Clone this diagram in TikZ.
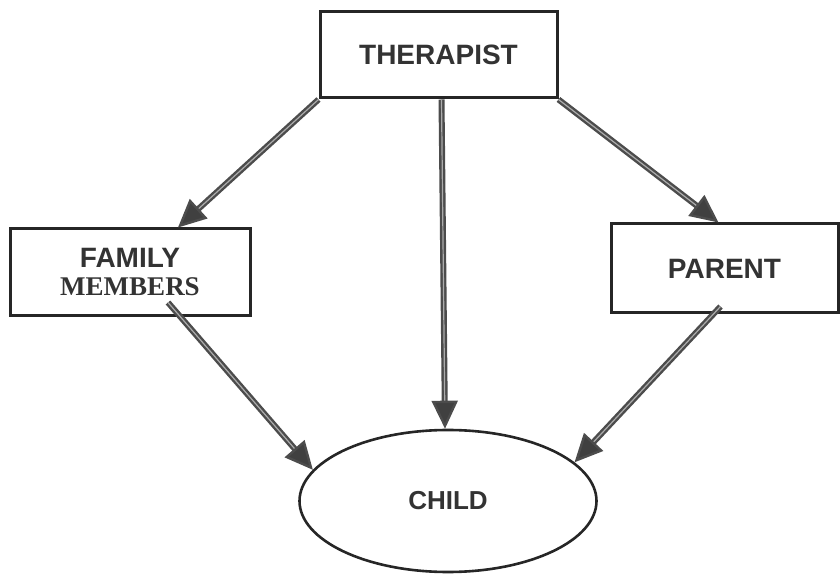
\documentclass[tikz,border=0pt]{standalone}
\usepackage{fontspec}
\setmainfont{Liberation Sans}
\newfontfamily\timesfont{Liberation Serif}
\usetikzlibrary{arrows.meta,calc,shapes.geometric}

\begin{document}
\begin{tikzpicture}[x=0.5pt,y=-0.5pt,
  box/.style={draw=black!85,line width=1.5pt,rectangle,font=\bfseries\fontsize{14}{15}\selectfont,text=black!80,align=center},
  link/.style={draw=black!70,double=gray!65,double distance=0.6pt,line width=1.2pt,
    -{Triangle[length=14pt,width=13pt,fill=black!75]}}]
% page size of the scan
\useasboundingbox (0,0) rectangle (840,576);

% Top box
\node[box,minimum width=118.5pt,minimum height=43pt] (ther) at (438.5,55) {THERAPIST};

% Side boxes
\node[box,minimum width=120pt,minimum height=43.5pt] (fam) at (130,272.5)
  {FAMILY\\[-1pt]{\timesfont\fontsize{13.5}{14}\selectfont MEMBERS}};
\node[box,minimum width=113.5pt,minimum height=44.5pt] (par) at (724.5,268.5) {PARENT};

% Bottom ellipse
\node[ellipse,draw=black!85,line width=1.3pt,minimum width=148.5pt,minimum height=71pt,
  font=\bfseries\fontsize{13}{14}\selectfont,text=black!80] (child) at (448,501) {CHILD};

% Arrows
\draw[link] (ther.south west) -- ($(fam.north)+(24pt,0)$);
\draw[link] (ther.south east) -- ($(par.north)+(-3pt,0)$);
\draw[link] ($(ther.south)+(1.5pt,0)$) -- ($(child.north)+(-1.5pt,0)$);
\draw[link] ($(fam.center)+(19pt,-15pt)$) -- (child.167);
\draw[link] ($(par.center)+(-2pt,-19pt)$) -- (child.17);
\end{tikzpicture}
\end{document}
